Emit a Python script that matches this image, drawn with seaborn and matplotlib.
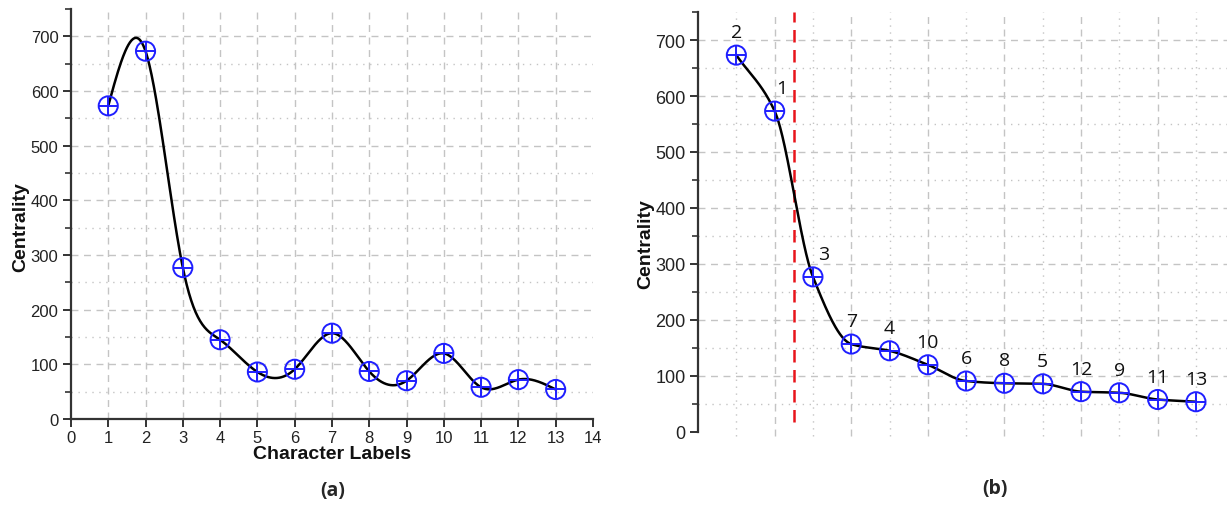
import numpy as np
import pandas as pd
import matplotlib
matplotlib.use("Agg")
import matplotlib.pyplot as plt
import seaborn as sns
from matplotlib.ticker import MultipleLocator

# ---- data ----
char_labels = [1, 2, 3, 4, 5, 6, 7, 8, 9, 10, 11, 12, 13]
centrality = [573, 673, 277, 145, 86, 91, 157, 87, 70, 120, 58, 72, 54]
yticks = [0, 100, 200, 300, 400, 500, 600, 700]
xticks_a = list(range(0, 15))
panel_titles = ["(a)", "(b)"]
ylabel = "Centrality"
xlabel_a = "Character Labels"

sns.set_theme(style="white")
plt.rcParams["font.family"] = ["Liberation Sans", "DejaVu Sans"]

BLUE = "#1f1fff"
GRID = "#c4c4c4"
AX = "#333333"


def natural_spline(x, y, xs):
    x = np.asarray(x, float); y = np.asarray(y, float)
    n = len(x); h = np.diff(x)
    A = np.zeros((n, n)); b = np.zeros(n)
    A[0, 0] = A[-1, -1] = 1
    for i in range(1, n - 1):
        A[i, i - 1] = h[i - 1]; A[i, i] = 2 * (h[i - 1] + h[i]); A[i, i + 1] = h[i]
        b[i] = 3 * ((y[i + 1] - y[i]) / h[i] - (y[i] - y[i - 1]) / h[i - 1])
    c = np.linalg.solve(A, b)
    out = np.empty_like(xs)
    for k, xv in enumerate(xs):
        i = min(max(np.searchsorted(x, xv) - 1, 0), n - 2)
        dx = xv - x[i]
        bi = (y[i + 1] - y[i]) / h[i] - h[i] * (2 * c[i] + c[i + 1]) / 3
        di = (c[i + 1] - c[i]) / (3 * h[i])
        out[k] = y[i] + bi * dx + c[i] * dx ** 2 + di * dx ** 3
    return out


def pchip(x, y, xs):
    x = np.asarray(x, float); y = np.asarray(y, float)
    h = np.diff(x); d = np.diff(y) / h; n = len(x)
    m = np.zeros(n)
    for i in range(1, n - 1):
        if d[i - 1] * d[i] <= 0:
            m[i] = 0
        else:
            w1 = 2 * h[i] + h[i - 1]; w2 = h[i] + 2 * h[i - 1]
            m[i] = (w1 + w2) / (w1 / d[i - 1] + w2 / d[i])
    m[0] = d[0]; m[-1] = d[-1]
    out = np.empty_like(xs)
    for k, xv in enumerate(xs):
        i = min(max(np.searchsorted(x, xv) - 1, 0), n - 2)
        t = (xv - x[i]) / h[i]
        h00 = 2 * t**3 - 3 * t**2 + 1; h10 = t**3 - 2 * t**2 + t
        h01 = -2 * t**3 + 3 * t**2; h11 = t**3 - t**2
        out[k] = h00 * y[i] + h10 * h[i] * m[i] + h01 * y[i + 1] + h11 * h[i] * m[i + 1]
    return out


fig = plt.figure(figsize=(12.32, 5.06), dpi=100)
axa = fig.add_axes([0.0576, 0.170, 0.4237, 0.810])
axb = fig.add_axes([0.5666, 0.1443, 0.429, 0.830])


def draw_markers(ax, xs, ys):
    df = pd.DataFrame({"x": xs, "y": ys})
    sns.scatterplot(data=df, x="x", y="y", ax=ax, marker="o", s=190,
                    facecolor="none", edgecolor=BLUE, linewidth=1.4, zorder=4)
    sns.scatterplot(data=df, x="x", y="y", ax=ax, marker="+", s=190,
                    color=BLUE, linewidth=1.4, zorder=4)


def style_y(ax, fs):
    ax.set_ylim(0, 750)
    ax.set_yticks(yticks)
    ax.yaxis.set_minor_locator(MultipleLocator(50))
    ax.tick_params(axis="y", which="major", direction="out", length=6, width=1.4,
                   color=AX, labelsize=fs, labelcolor="#222222", left=True, pad=3)
    ax.tick_params(axis="y", which="minor", direction="out", length=4, width=1.2,
                   color=AX, left=True)
    for yv in range(50, 750, 50):
        ls = (0, (5, 4)) if yv % 100 == 0 else (0, (1, 4))
        ax.axhline(yv, color=GRID, lw=1.0, ls=ls, zorder=0)


# ---- panel (a) ----
xs = np.linspace(1, 13, 600)
df_a = pd.DataFrame({"x": xs, "y": natural_spline(char_labels, centrality, xs)})
sns.lineplot(data=df_a, x="x", y="y", ax=axa, color="black", lw=1.8, zorder=3)
draw_markers(axa, char_labels, centrality)
axa.set_xlim(0, 14)
axa.set_xticks(xticks_a)
axa.tick_params(axis="x", which="major", direction="out", length=6, width=1.4,
                color=AX, labelsize=12, labelcolor="#222222", bottom=True, pad=2)
for xv in range(1, 14):
    axa.axvline(xv, color=GRID, lw=1.0, ls=(0, (5, 4)), zorder=0)
style_y(axa, 12)
for s in ["top", "right"]:
    axa.spines[s].set_visible(False)
for s in ["left", "bottom"]:
    axa.spines[s].set_color(AX); axa.spines[s].set_linewidth(1.6)
axa.set_xlabel(xlabel_a, fontsize=14, fontweight="bold", labelpad=0, color="#111111")
axa.set_ylabel(ylabel, fontsize=14, fontweight="bold", color="#111111")
axa.yaxis.set_label_coords(-0.08, 0.47)

# ---- panel (b) ----
order = sorted(range(len(centrality)), key=lambda i: -centrality[i])
sorted_vals = [centrality[i] for i in order]
sorted_labels = [char_labels[i] for i in order]
pos = list(range(1, len(sorted_vals) + 1))
xs_b = np.linspace(1, 13, 600)
df_b = pd.DataFrame({"x": xs_b, "y": pchip(pos, sorted_vals, xs_b)})
sns.lineplot(data=df_b, x="x", y="y", ax=axb, color="black", lw=1.8, zorder=3)
draw_markers(axb, pos, sorted_vals)
axb.set_xlim(0, 13.8)
axb.set_xticks([])
for p in pos:
    ls = (0, (5, 4)) if p % 2 == 0 else (0, (1, 4))
    axb.plot([p, p], [-8, 750], color=GRID, lw=1.0, ls=ls, zorder=0, clip_on=False)
axb.axvline(2.5, ymin=0.024, ymax=1.0, color="#e8141b", lw=1.8, ls=(0, (5, 3)), zorder=2)
style_y(axb, 13)
for s in ["top", "right", "bottom"]:
    axb.spines[s].set_visible(False)
axb.spines["left"].set_color(AX); axb.spines["left"].set_linewidth(1.6)
axb.set_xlabel("")
axb.set_ylabel(ylabel, fontsize=14, fontweight="bold", color="#111111")
axb.yaxis.set_label_coords(-0.083, 0.45)
x_shift = {1: 5, 3: 8}
for p, v, lab in zip(pos, sorted_vals, sorted_labels):
    axb.annotate(str(lab), (p, v), xytext=(x_shift.get(lab, 0), 10),
                 textcoords="offset points", ha="center", va="bottom",
                 fontsize=14, family=["Open Sans", "DejaVu Sans"], color="#111111")

fig.text(333 / 1232, 1 - 491 / 506, panel_titles[0], ha="center", va="center",
         fontsize=14, fontweight="bold", family=["Open Sans", "DejaVu Sans"])
fig.text(995 / 1232, 1 - 489 / 506, panel_titles[1], ha="center", va="center",
         fontsize=14, fontweight="bold", family=["Open Sans", "DejaVu Sans"])

fig.savefig("out.png", dpi=100)
